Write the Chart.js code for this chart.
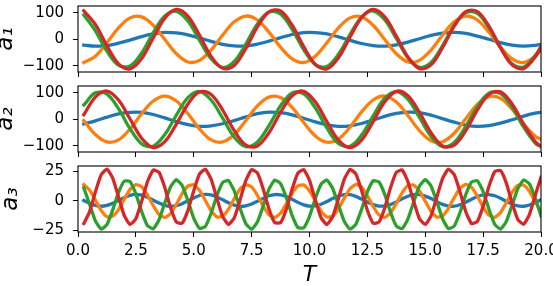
<!DOCTYPE html>
<html>
<head>
<meta charset="utf-8">
<script src="https://cdn.jsdelivr.net/npm/chart.js@4/dist/chart.umd.min.js"></script>
<style>
html,body{margin:0;padding:0;background:#fff;}
#wrap{position:relative;width:553px;height:286px;overflow:hidden;background:#fff;}
canvas{position:absolute;left:0;}
</style>
</head>
<body>
<div id="wrap">
<canvas id="c1" width="553" height="80" style="top:0px"></canvas>
<canvas id="c2" width="553" height="80" style="top:80px"></canvas>
<canvas id="c3" width="553" height="126" style="top:160px"></canvas>
</div>
<script>
// ---- data ----
const T12 = [0.25,0.75,1.25,1.75,2.25,2.75,3.25,3.75,4.25,4.75,5.25,5.75,6.25,6.75,7.25,7.75,8.25,8.75,9.25,9.75,10.25,10.75,11.25,11.75,12.25,12.75,13.25,13.75,14.25,14.75,15.25,15.75,16.25,16.75,17.25,17.75,18.25,18.75,19.25,19.75,20.0];
const T3 = [0.25,0.5,0.75,1,1.25,1.5,1.75,2,2.25,2.5,2.75,3,3.25,3.5,3.75,4,4.25,4.5,4.75,5,5.25,5.5,5.75,6,6.25,6.5,6.75,7,7.25,7.5,7.75,8,8.25,8.5,8.75,9,9.25,9.5,9.75,10,10.25,10.5,10.75,11,11.25,11.5,11.75,12,12.25,12.5,12.75,13,13.25,13.5,13.75,14,14.25,14.5,14.75,15,15.25,15.5,15.75,16,16.25,16.5,16.75,17,17.25,17.5,17.75,18,18.25,18.5,18.75,19,19.25,19.5,19.75,20];

const a1Blue   = [-22,-26,-24,-15,-3,10,20,26,24,17,5,-8,-19,-25,-25,-18,-7,6,18,25,25,20,9,-4,-16,-24,-26,-21,-11,2,15,23,26,22,12,0,-13,-22,-26,-23,-19];
const a1Orange = [-88,-64,-13,43,81,85,53,-1,-55,-86,-80,-41,16,66,88,73,27,-30,-74,-88,-64,-13,43,81,85,53,-1,-55,-86,-80,-41,16,66,88,73,27,-30,-74,-88,-64,-41];
const a1Green  = [92,32,-45,-98,-101,-52,25,88,106,69,-4,-74,-107,-84,-18,58,103,95,38,-39,-96,-103,-57,18,84,107,74,3,-70,-106,-88,-24,52,101,98,44,-33,-93,-105,-62,-27];
const a1Red    = [108,56,-25,-93,-112,-73,5,80,113,87,15,-65,-110,-99,-35,47,104,107,53,-28,-95,-112,-70,8,82,113,85,12,-67,-111,-97,-31,50,105,105,50,-31,-97,-111,-67,-30];

const a2Blue   = [-18,-6,8,20,26,26,18,5,-9,-20,-27,-25,-17,-5,9,21,27,25,17,4,-10,-21,-27,-25,-16,-3,11,22,27,25,16,2,-11,-22,-27,-24,-15,-2,12,23,26];
const a2Orange = [-5,-58,-86,-78,-37,21,69,88,69,21,-37,-78,-86,-58,-5,51,84,82,45,-12,-63,-87,-75,-30,28,73,88,65,14,-43,-81,-85,-53,2,56,86,79,38,-18,-64,-76];
const a2Green  = [54,100,95,40,-36,-93,-102,-58,16,82,105,73,4,-68,-104,-86,-24,51,100,96,43,-33,-92,-102,-60,13,80,105,76,7,-65,-104,-88,-27,48,99,97,46,-30,-90,-103];
const a2Red    = [17,84,107,73,1,-72,-107,-85,-18,58,104,94,35,-43,-98,-101,-51,26,89,106,66,-9,-79,-107,-79,-9,66,106,89,26,-51,-101,-98,-43,35,94,104,58,-18,-85,-103];

const a3Blue   = [0.4,-2.0,-3.8,-4.5,-3.8,-2.0,0.4,2.9,4.8,5.5,4.9,3.2,0.7,-1.8,-3.7,-4.5,-4.0,-2.3,0.1,2.6,4.6,5.5,5.1,3.4,1.0,-1.5,-3.5,-4.5,-4.1,-2.6,-0.2,2.1,4.4,5.4,5.2,3.7,1.4,-1.2,-3.3,-4.4,-4.2,-2.8,-0.5,2.1,4.2,5.4,5.3,3.9,1.6,-0.9,-3.1,-4.3,-4.3,-3.0,-0.8,1.8,4.0,5.3,5.4,4.1,2.0,-0.6,-2.9,-4.3,-4.4,-3.2,-1.1,1.5,3.8,5.2,5.4,4.4,2.3,-0.3,-2.6,-4.2,-4.5,-3.4,-1.4,1.1];
const a3Orange = [13.8,9.3,0.8,-8.0,-13.4,-12.9,-7.3,1.6,9.8,13.9,12.1,5.2,-3.9,-11.4,-14.0,-10.7,-2.8,6.2,12.6,13.7,9.0,0.4,-8.3,-13.5,-13.0,-7.0,2.0,10.1,13.9,11.9,4.8,-4.3,-11.7,-14.0,-10.4,-2.5,6.5,12.8,13.6,8.7,0.1,-8.6,-13.6,-12.8,-6.6,2.3,10.3,14.0,11.7,4.4,-4.7,-11.8,-13.9,-10.2,-2.1,6.9,12.9,13.5,8.4,-0.3,-8.8,-13.7,-12.7,-6.3,2.7,10.6,14.0,11.5,4.1,-5.0,-12.0,-13.9,-9.9,-1.7,7.2,13.1,13.4,8.1,-0.7,-9.2];
const a3Green  = [11.2,-2.8,-16.9,-23.9,-20.1,-7.6,7.2,16.8,16.4,6.0,-9.0,-20.9,-23.7,-15.9,-1.5,12.1,18.0,13.1,0.0,-14.7,-23.3,-21.6,-10.4,4.6,15.7,17.3,8.5,-6.3,-19.3,-24.0,-17.9,-4.3,10.0,17.7,14.7,2.8,-12.2,-22.5,-22.8,-13.0,1.9,14.2,17.8,10.7,-3.4,-17.3,-23.9,-19.8,-7.1,7.7,17.0,16.1,5.5,-9.6,-21.2,-23.5,-15.4,-0.9,12.6,18.0,12.7,-0.6,-15.2,-23.5,-21.3,-9.8,5.3,16.0,17.1,8.0,-6.8,-19.7,-23.9,-17.5,-3.7,10.5,17.8,14.4,2.4,-12.7];
const a3Red    = [-19.2,-9.2,7.6,22.2,26.9,19.3,3.4,-12.5,-19.9,-15.1,-0.4,16.3,26.2,24.3,11.3,-5.8,-17.9,-18.8,-8.0,8.7,22.9,26.8,18.4,2.2,-13.3,-20.0,-14.3,0.8,17.3,26.5,23.7,10.2,-6.8,-18.4,-18.4,-7.0,10.1,23.6,26.6,17.4,0.9,-14.2,-20.0,-13.4,2.0,18.3,26.7,23.0,8.9,-7.9,-18.8,-17.9,-5.9,11.2,24.2,26.3,16.4,-0.3,-15.0,-19.9,-12.6,3.3,19.2,26.9,22.3,7.8,-9.1,-19.2,-17.4,-4.6,12.3,24.8,25.9,15.3,-1.5,-15.7,-19.8,-11.6,4.6,20.1];

const xTicks = [0, 2.5, 5, 7.5, 10, 12.5, 15, 17.5, 20];
const yTicksBig = [-100, 0, 100];
const yTicksSmall = [-25, 0, 25];
const yLabels = ['a\u2081', 'a\u2082', 'a\u2083'];
const xLabel = 'T';
const colors = ['#1f77b4', '#ff7f0e', '#2ca02c', '#d62728'];

// ---- drawing ----
Chart.defaults.font.family = "'DejaVu Sans', sans-serif";
Chart.defaults.font.size = 15;
Chart.defaults.color = '#000';

const frame = {
  id: 'frame',
  afterDatasetsDraw(chart) {
    const {ctx, chartArea: a} = chart;
    ctx.save();
    ctx.strokeStyle = '#000';
    ctx.lineWidth = 1.1;
    ctx.strokeRect(a.left, a.top, a.right - a.left, a.bottom - a.top);
    ctx.restore();
  }
};

const pts = (xs, ys) => xs.map((x, i) => ({x: x, y: ys[i]}));
const fmtY = v => (v < 0 ? '\u2212' + Math.abs(v) : String(v));
const noPad = s => { s.paddingTop = 0; s.paddingBottom = 0; s.paddingLeft = 0; s.paddingRight = 0; };

function panel(id, xs, series, yMin, yMax, yTicks, yLabel, showX, xHeight, tension, titlePad) {
  return new Chart(document.getElementById(id), {
    type: 'line',
    data: {
      datasets: series.map((s, i) => ({
        data: pts(xs, s),
        borderColor: colors[i],
        backgroundColor: colors[i],
        borderWidth: 3.3,
        pointRadius: 0,
        tension: tension,
        fill: false,
        order: 4 - i,
        clip: 0,
        borderCapStyle: 'square',
        borderJoinStyle: 'round'
      }))
    },
    options: {
      responsive: false,
      animation: false,
      devicePixelRatio: 1,
      events: [],
      layout: {padding: {left: 0, right: 12, top: 6, bottom: 0}, autoPadding: false},
      plugins: {legend: {display: false}, tooltip: {enabled: false}},
      scales: {
        x: {
          type: 'linear', min: 0, max: 20,
          afterBuildTicks: s => { s.ticks = xTicks.map(v => ({value: v})); },
          afterFit: s => { s.height = xHeight; noPad(s); },
          grid: {drawOnChartArea: false, drawTicks: true, tickLength: 5, color: '#000', lineWidth: 1},
          border: {display: false},
          ticks: {display: showX, padding: 5, maxRotation: 0, autoSkip: false, font: {size: 15},
                  callback: v => Number(v).toFixed(1)},
          title: {display: showX, text: xLabel, padding: 0,
                  font: {size: 22, style: 'italic', lineHeight: 0.94}}
        },
        y: {
          type: 'linear', min: yMin, max: yMax,
          afterBuildTicks: s => { s.ticks = yTicks.map(v => ({value: v})); },
          afterFit: s => { s.width = 78; noPad(s); },
          grid: {drawOnChartArea: false, drawTicks: true, tickLength: 5, color: '#000', lineWidth: 1},
          border: {display: false},
          ticks: {padding: 9, font: {size: 15}, callback: v => fmtY(v)},
          title: {display: true, text: yLabel, padding: {top: titlePad, bottom: 0},
                  font: {size: 23, style: 'italic', lineHeight: 1.0}}
        }
      }
    },
    plugins: [frame]
  });
}

panel('c1', T12, [a1Blue, a1Orange, a1Green, a1Red], -124, 126, yTicksBig, yLabels[0], false, 8, 0.35, -5);
panel('c2', T12, [a2Blue, a2Orange, a2Green, a2Red], -124, 126, yTicksBig, yLabels[1], false, 8, 0.35, -5);
panel('c3', T3, [a3Blue, a3Orange, a3Green, a3Red], -26.3, 29.6, yTicksSmall, yLabels[2], true, 54, 0.15, 0);
</script>
</body>
</html>
